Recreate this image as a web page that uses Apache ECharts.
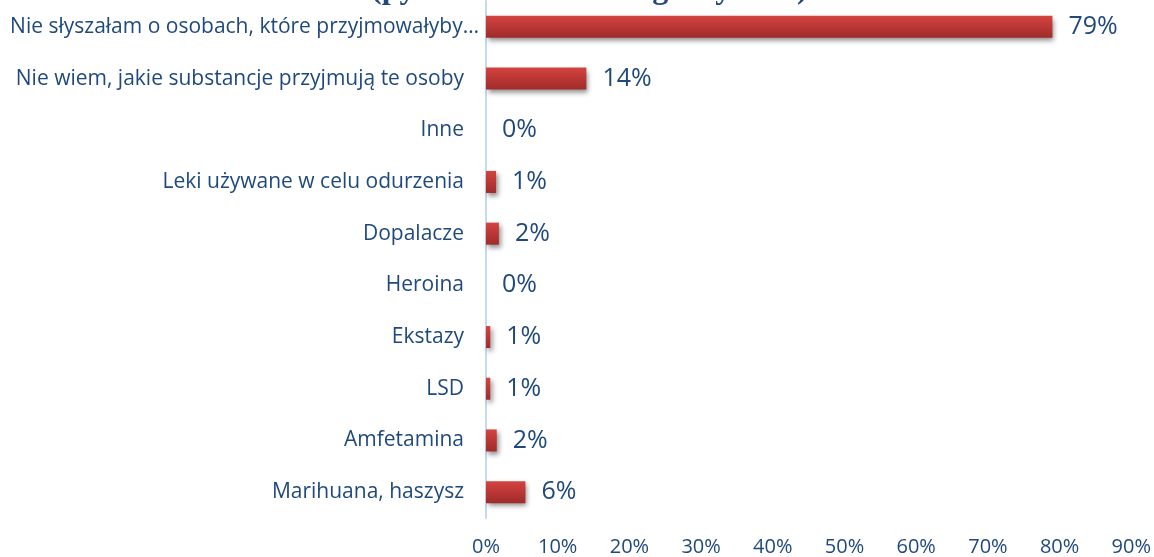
<!DOCTYPE html>
<html>
<head>
<meta charset="utf-8">
<script src="https://cdn.jsdelivr.net/npm/echarts@6/dist/echarts.min.js"></script>
<style>html,body{margin:0;padding:0;background:#fff;}#c{width:1154px;height:557px;}</style>
</head>
<body>
<div id="c"></div>
<script>
const categories = [
  "Nie słyszałam o osobach, które przyjmowałyby…",
  "Nie wiem, jakie substancje przyjmują te osoby",
  "Inne",
  "Leki używane w celu odurzenia",
  "Dopalacze",
  "Heroina",
  "Ekstazy",
  "LSD",
  "Amfetamina",
  "Marihuana, haszysz"
];
const values = [79, 14, 0, 1.4, 1.8, 0, 0.6, 0.6, 1.5, 5.5];
const valueLabels = ["79%", "14%", "0%", "1%", "2%", "0%", "1%", "1%", "2%", "6%"];
const xTicks = ["0%", "10%", "20%", "30%", "40%", "50%", "60%", "70%", "80%", "90%"];
const titleText = "(pytanie wielokrotnego wyboru)";

const chart = echarts.init(document.getElementById('c'));
const txt = '#1f497d';
const font = 'Open Sans';
chart.setOption({
  animation: false,
  title: {
    text: titleText, left: 366, top: -31,
    textStyle: { fontFamily: 'Liberation Serif', fontWeight: 'bold', fontSize: 32, color: txt }
  },
  grid: { left: 486, right: 19, top: 1, bottom: 39, containLabel: false },
  xAxis: {
    type: 'value', min: 0, max: 90, interval: 10,
    axisLine: { show: false }, axisTick: { show: false }, splitLine: { show: false },
    axisLabel: {
      margin: 19, color: txt, fontFamily: font, fontSize: 20,
      formatter: (v) => xTicks[Math.round(v / 10)]
    }
  },
  yAxis: {
    type: 'category', data: categories, inverse: true,
    axisLine: { show: true, lineStyle: { color: '#c6d9f1', width: 2 } },
    axisTick: { show: false },
    axisLabel: {
      margin: 7, color: txt, fontFamily: font, fontSize: 21,
      formatter: (v, i) => (i === 0 ? '{f|' + v + '}' : '{n|' + v + '}'),
      rich: {
        f: { color: txt, fontFamily: font, fontSize: 21, padding: [0, 0, 0, 0] },
        n: { color: txt, fontFamily: font, fontSize: 21, padding: [0, 15, 0, 0] }
      }
    }
  },
  series: [{
    type: 'bar', data: values, barWidth: 22,
    itemStyle: {
      color: new echarts.graphic.LinearGradient(0, 0, 0, 1, [
        { offset: 0, color: '#d4433f' },
        { offset: 1, color: '#9f2b2b' }
      ]),
      shadowColor: 'rgba(0,0,0,0.45)', shadowBlur: 5, shadowOffsetX: 2, shadowOffsetY: 3
    },
    label: {
      show: true, position: 'right', distance: 16, color: txt, fontFamily: font, fontSize: 25,
      formatter: (p) => valueLabels[p.dataIndex]
    }
  }]
});
</script>
</body>
</html>
